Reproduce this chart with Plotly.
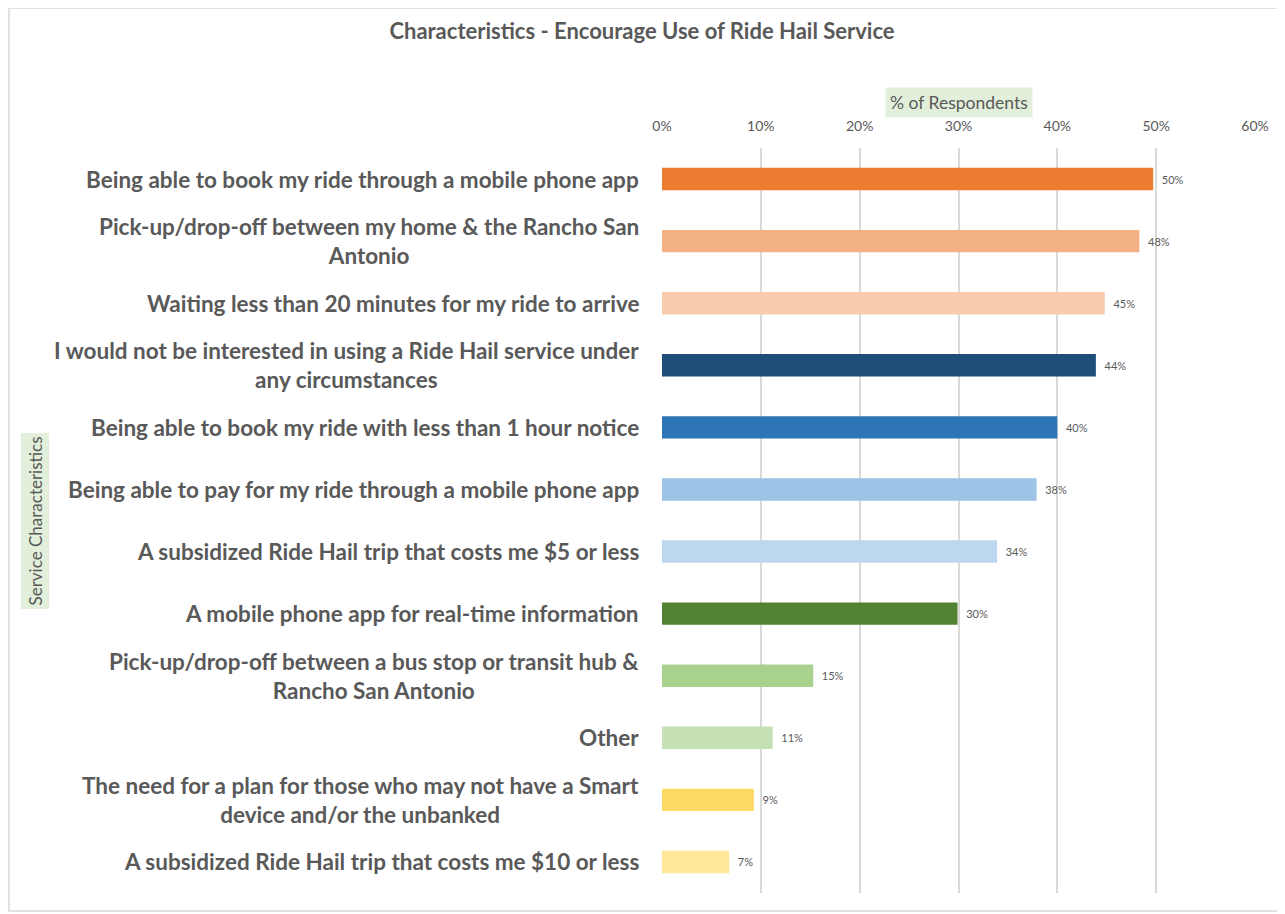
import plotly.graph_objects as go

categories = [
    "Being able to book my ride through a mobile phone app",
    "Pick-up/drop-off between my home & the Rancho San<br>Antonio",
    "Waiting less than 20 minutes for my ride to arrive",
    "I would not be interested in using a Ride Hail service under<br>any circumstances",
    "Being able to book my ride with less than 1 hour notice",
    "Being able to pay for my ride through a mobile phone app",
    "A subsidized Ride Hail trip that costs me $5 or less",
    "A mobile phone app for real-time information",
    "Pick-up/drop-off between a bus stop or transit hub &<br>Rancho San Antonio",
    "Other",
    "The need for a plan for those who may not have a Smart<br>device and/or the unbanked",
    "A subsidized Ride Hail trip that costs me $10 or less",
]
values = [0.497, 0.483, 0.448, 0.439, 0.400, 0.379, 0.339, 0.299, 0.153, 0.112, 0.093, 0.068]
colors = ["#ED7D31", "#F4B183", "#F8CBAD", "#1F4E79", "#2E75B6", "#9DC3E6",
          "#BDD7EE", "#548235", "#A9D18E", "#C5E0B4", "#FFD966", "#FFE699"]
tick_vals = [0, 0.1, 0.2, 0.3, 0.4, 0.5, 0.6]
tick_text = ["0%", "10%", "20%", "30%", "40%", "50%", "60%"]

FONT = "Lato"
GRAY = "#595959"

# page body has an 8px margin; figure is laid out in page coords minus 8
W, H = 1277, 906
L, T = 654, 140
PW, PH = 593, 745
R = W - L - PW
B = H - T - PH

ids = list(range(len(categories)))

fig = go.Figure(go.Bar(
    x=values, y=ids, orientation="h",
    marker=dict(color=colors, line=dict(width=0)),
    text=[f"  {round(v*100):.0f}%" for v in values],
    textposition="outside", cliponaxis=False,
    textfont=dict(family=FONT, size=11, color=GRAY),
    hoverinfo="skip",
))

annotations = []
for i, c in zip(ids, categories):
    annotations.append(dict(
        x=0, xref="paper", y=i, yref="y", text=c, showarrow=False,
        xanchor="right", yanchor="middle", align="center", xshift=-21,
        font=dict(family=FONT, size=22.5, color=GRAY, weight="bold"),
    ))

annotations.append(dict(
    x=0.5, xref="paper", y=(H - B - (102 - 8)) / PH, yref="paper",
    yanchor="middle", xanchor="center",
    text="% of Respondents", showarrow=False, bgcolor="#E2EFDA",
    font=dict(family=FONT, size=17.5, color=GRAY), borderpad=4,
))
annotations.append(dict(
    x=(35 - 8 - L) / PW, xref="paper", y=0.5, yref="paper",
    xanchor="center", yanchor="middle", text="Service Characteristics",
    showarrow=False, textangle=-90, bgcolor="#E2EFDA",
    font=dict(family=FONT, size=17, color=GRAY), borderpad=3,
))

fig.update_layout(
    width=W, height=H,
    margin=dict(l=L, r=R, t=T, b=B, autoexpand=False),
    paper_bgcolor="white", plot_bgcolor="white",
    title=dict(text="Characteristics - Encourage Use of Ride Hail Service",
               x=(642 - 8) / W, xanchor="center", y=1 - (31 - 8) / H, yanchor="middle",
               font=dict(family=FONT, size=22, color=GRAY, weight="bold")),
    xaxis=dict(side="top", range=[0, 0.6], tickvals=tick_vals, ticktext=tick_text,
               showgrid=True, gridcolor="#D9D9D9", gridwidth=1.5, zeroline=False,
               showline=False, ticks="outside", ticklen=10, tickcolor="rgba(0,0,0,0)",
               tickfont=dict(family=FONT, size=14, color=GRAY)),
    yaxis=dict(autorange="reversed", showticklabels=False, showgrid=False,
               zeroline=False, showline=False, ticks=""),
    bargap=0.64,
    showlegend=False,
    annotations=annotations,
    shapes=[dict(type="rect", xref="paper", yref="paper",
                 x0=(1 - L) / PW, x1=(1278 - 8 - L) / PW,
                 y0=(H - B - (911 - 8)) / PH, y1=(H - B - 0) / PH,
                 line=dict(color="#D9D9D9", width=1.5), fillcolor="rgba(0,0,0,0)",
                 layer="below")],
)

fig.write_html("out.html")
